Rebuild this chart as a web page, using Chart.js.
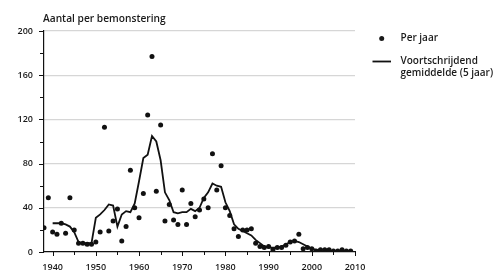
<!DOCTYPE html>
<html>
<head>
<meta charset="utf-8">
<script src="https://cdn.jsdelivr.net/npm/chart.js@4/dist/chart.umd.min.js"></script>
<style>
html,body{margin:0;padding:0;background:#fff;}
canvas{display:block;}
</style>
</head>
<body>
<canvas id="myChart" width="498" height="271"></canvas>
<script>
// jaren met een waarneming
const years = [1938,1939,1940,1941,1942,1943,1944,1945,1946,1947,1948,1949,
  1950,1951,1952,1953,1954,1955,1956,1957,1958,1959,
  1960,1961,1962,1963,1964,1965,1966,1967,1968,1969,
  1970,1971,1972,1973,1974,1975,1976,1977,1978,1979,
  1980,1981,1982,1983,1984,1985,1986,1987,1988,1989,
  1990,1991,1992,1993,1994,1995,1996,1997,1998,1999,
  2000,2001,2002,2003,2004,2005,2006,2007,2008,2009];

// aantal per bemonstering, per jaar
const perJaar = [22,49,18,16,26,17,49,20,8,8,7,7,
  9,18,113,19,28,39,10,23,74,40,
  31,53,124,177,55,115,28,43,29,25,
  56,25,44,32,38,48,40,89,56,78,
  40,33,21,14,20,20,21,8,5,4,
  5,2,4,4,6,9,10,16,3,4,
  3,1,2,2,2,1,1,2,1,1];

const gemYears = [1940,1941,1942,1943,1944,1945,1946,1947,1948,1949,
  1950,1951,1952,1953,1954,1955,1956,1957,1958,1959,
  1960,1961,1962,1963,1964,1965,1966,1967,1968,1969,
  1970,1971,1972,1973,1974,1975,1976,1977,1978,1979,
  1980,1981,1982,1983,1984,1985,1986,1987,1988,1989,
  1990,1991,1992,1993,1994,1995,1996,1997,1998,1999,
  2000,2001,2002,2003,2004,2005,2006,2007,2008,2009];
const gemiddelde = [26,26,26,25,23,18,9,8,8,8,
  31,34,38,43,42,23,34,37,36,44,
  64,85,88,105,100,83,54,47,36,35,
  36,36,39,37,40,49,54,62,60,59,
  45,37,25,21,19,17,15,11,8,5,
  4,4,4,5,7,9,10,9,7,5,
  3,2,2,2,1,1,1,1,1,1];

const yTicks = [0,40,80,120,160,200];
const xTicks = [1940,1950,1960,1970,1980,1990,2000,2010];

const titleText = "Aantal per bemonstering";
const legendDot = "Per jaar";
const legendLine = ["Voortschrijdend", "gemiddelde (5 jaar)"];

const ink = "#1a1a1a";
const fontFam = "'Open Sans', 'Noto Sans', sans-serif";

const extras = {
  id: "extras",
  afterDraw(chart) {
    const ctx = chart.ctx;
    const xs = chart.scales.x, ys = chart.scales.y;
    const left = chart.chartArea.left, bottom = chart.chartArea.bottom;
    ctx.save();
    ctx.strokeStyle = "#111";
    ctx.lineWidth = 1;
    // tick marks op de y-as
    for (let v = 0; v <= 200; v += 20) {
      const py = Math.round(ys.getPixelForValue(v)) + 0.5;
      const len = yTicks.includes(v) ? 5 : 4;
      ctx.beginPath(); ctx.moveTo(left - len, py); ctx.lineTo(left, py); ctx.stroke();
    }
    // tick marks op de x-as
    for (let yr = 1940; yr <= 2010; yr += 5) {
      const px = Math.round(xs.getPixelForValue(yr)) + 0.5;
      const len = xTicks.includes(yr) ? 4 : 3;
      ctx.beginPath(); ctx.moveTo(px, bottom); ctx.lineTo(px, bottom + len); ctx.stroke();
    }
    // titel
    ctx.fillStyle = ink;
    ctx.textBaseline = "middle";
    ctx.font = "600 10.2px " + fontFam;
    ctx.fillText(titleText, left - 1, 19);
    // legenda
    ctx.font = "600 10px " + fontFam;
    ctx.beginPath(); ctx.arc(381.7, 38.5, 2.5, 0, Math.PI * 2); ctx.fill();
    ctx.fillText(legendDot, 400.5, 38.5);
    ctx.lineWidth = 1.8;
    ctx.beginPath(); ctx.moveTo(372.5, 61.5); ctx.lineTo(391, 61.5); ctx.stroke();
    ctx.fillText(legendLine[0], 400.5, 61);
    ctx.fillText(legendLine[1], 400.5, 73.5);
    ctx.restore();
  }
};

new Chart("myChart", {
  type: "line",
  data: {
    datasets: [{
      label: legendLine.join(" "),
      data: gemYears.map((yr, i) => ({x: yr, y: gemiddelde[i]})),
      borderColor: "#111",
      borderWidth: 1.8,
      pointRadius: 0,
      tension: 0,
      fill: false
    }, {
      label: legendDot,
      data: years.map((yr, i) => ({x: yr, y: perJaar[i]})),
      showLine: false,
      pointRadius: 2.5,
      pointBackgroundColor: "#111",
      pointBorderWidth: 0
    }]
  },
  options: {
    responsive: false,
    animation: false,
    layout: {padding: {top: 31, right: 143, left: 0, bottom: 0}},
    plugins: {legend: {display: false}, tooltip: {enabled: false}},
    scales: {
      x: {
        type: "linear", min: 1938, max: 2010,
        grid: {drawOnChartArea: false, tickLength: 5, tickColor: "rgba(0,0,0,0)"},
        border: {color: "#111", width: 1.2},
        ticks: {
          stepSize: 5, includeBounds: false, autoSkip: false, maxRotation: 0, padding: 5,
          color: ink, font: {family: fontFam, size: 9, weight: "600"},
          callback: v => xTicks.includes(v) ? String(v) : ""
        },
        afterFit(s) { s.height = 19; }
      },
      y: {
        min: 0, max: 200,
        grid: {
          color: c => (c.tick.value > 0 && yTicks.includes(c.tick.value)) ? "#d6d6d6" : "rgba(0,0,0,0)",
          lineWidth: 1.2, tickLength: 5, tickColor: "rgba(0,0,0,0)"
        },
        border: {color: "#111", width: 1.2},
        ticks: {
          stepSize: 20, autoSkip: false, padding: 6,
          color: ink, font: {family: fontFam, size: 9, weight: "600"},
          callback: v => yTicks.includes(v) ? String(v) : ""
        },
        afterFit(s) { s.width = 44; }
      }
    }
  },
  plugins: [extras]
});
</script>
</body>
</html>
